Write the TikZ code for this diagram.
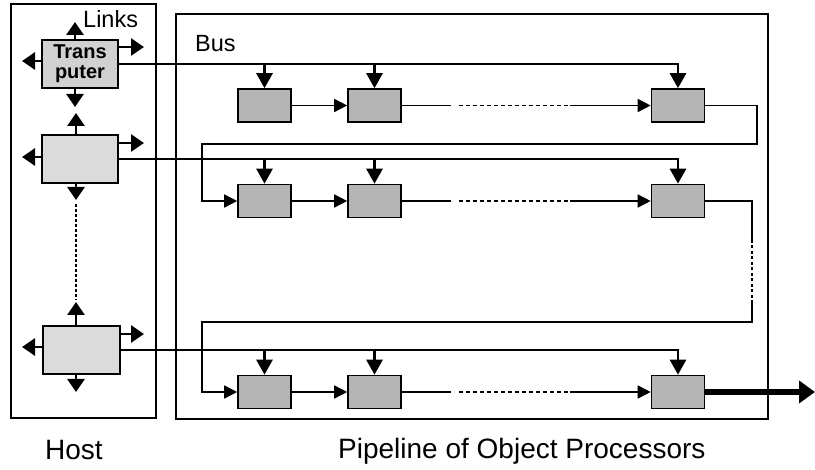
\documentclass[tikz,border=0pt]{standalone}
\usepackage{fontspec}
\setmainfont{Liberation Sans}
\usetikzlibrary{arrows.meta,calc}
\begin{document}
\begin{tikzpicture}[x=1pt,y=-1pt,
  tp/.style={draw,line width=1.6pt,fill=gray!28,minimum width=76pt,minimum height=48pt,inner sep=0pt},
  proc/.style={draw,line width=1.6pt,fill=gray!58,minimum width=53pt,minimum height=33pt,inner sep=0pt},
  frame/.style={draw,line width=1.5pt},
  bus/.style={line width=2.8pt},
  thinline/.style={line width=1.5pt},
  bigtip/.style={-{Triangle[length=15pt,width=16pt]}},
  linktip/.style={-{Triangle[length=13pt,width=17pt]}},
  smalltip/.style={-{Triangle[length=13pt,width=13pt]}},
  lbl/.style={font=\fontsize{23.5}{26}\selectfont, inner sep=0pt},
  captext/.style={font=\fontsize{28}{30}\selectfont, inner sep=0pt}]
\useasboundingbox (0,0) rectangle (815,470);

% frames
\draw[frame] (11,4) rectangle (156,418);
\draw[frame] (176,14) rectangle (768,419);

% labels
\node[lbl,anchor=base west] (links) at (83,28) {Links};
\node[lbl,anchor=base west] (buslbl) at (195,52) {Bus};
\node[captext,anchor=base west] (host) at (45,460) {Host};
\node[captext,anchor=base west] (pipe) at (338,459) {Pipeline of Object Processors};

% transputers
\node[tp,fill=gray!36,align=center,font=\bfseries\fontsize{20}{20}\selectfont] (t1) at (80,64) {Trans\\puter};
\node[tp] (t2) at (80,159) {};
\node[tp,minimum width=77pt] (t3) at (81.5,350) {};

% processors
\foreach \r/\y in {1/105.5,2/201,3/392}{
  \node[proc] (p\r1) at (264.5,\y) {};
  \node[proc] (p\r2) at (374.5,\y) {};
  \node[proc] (p\r3) at (678,\y) {};
}

% transputer link arrows
\draw[bus,linktip] ($(t1.north)+(-5,0)$) -- (75,22);
\draw[bus,linktip] (t1.east |- 0,47) -- (144,47);
\draw[bus,linktip] (t1.west |- 0,61) -- (22,61);
\draw[bus,linktip] ($(t1.south)+(-5,0)$) -- (75,107);

\draw[bus,linktip] ($(t2.north)+(-4,0)$) -- (76,113);
\draw[bus,linktip] (t2.east |- 0,143) -- (144,143);
\draw[bus,linktip] (t2.west |- 0,157) -- (22,157);
\draw[bus,linktip] ($(t2.south)+(-4,0)$) -- (76,200);
\draw[line width=1.8pt,dash pattern=on 3pt off 2pt] (76,204) -- (76,300);

\draw[bus,linktip] ($(t3.north)+(-5.5,0)$) -- (76,302);
\draw[bus,linktip] (t3.east |- 0,334) -- (144,334);
\draw[bus,linktip] (t3.west |- 0,347) -- (22,347);
\draw[bus,linktip] ($(t3.south)+(-5.5,0)$) -- (76,392);

% buses
\foreach \r/\t in {1/t1,2/t2,3/t3}{
  \draw[bus,bigtip] (\t.east) -| (p\r3.north);
  \draw[bus,bigtip] (p\r1.north |- \t.east) -- (p\r1.north);
  \draw[bus,bigtip] (p\r2.north |- \t.east) -- (p\r2.north);
  % pipeline links
  \draw[thinline,smalltip] (p\r1.east) -- (p\r2.west);
  \draw[thinline] (p\r2.east) -- ++(49,0);
  \draw[thinline,dash pattern=on 4pt off 3pt] ($(p\r2.east)+(57,0)$) -- ($(p\r3.west)+(-83,0)$);
  \draw[thinline,smalltip] ($(p\r3.west)+(-81,0)$) -- (p\r3.west);
}

% return paths
\coordinate (r1a) at (757,144);
\coordinate (r2a) at (752,240);
\coordinate (r2b) at (752,302);
\coordinate (r2c) at (752,322);
\draw[thinline,smalltip] (p13.east) -| (r1a) -- (202,144) |- (p21.west);
\draw[thinline] (p23.east) -| (r2a);
\draw[thinline,dash pattern=on 3pt off 2.5pt] (r2a) -- (r2b);
\draw[thinline,smalltip] (r2b) -- (r2c) -- (202,322) |- (p31.west);

% output
\coordinate (out) at (815,392);
\draw[line width=6pt,-{Triangle[length=16pt,width=22pt]}] (p33.east) -- (out);
\end{tikzpicture}
\end{document}
